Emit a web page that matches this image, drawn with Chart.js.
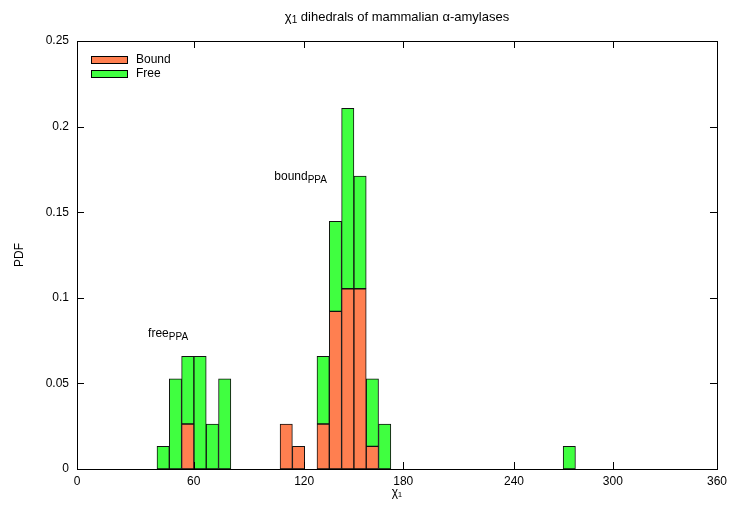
<!DOCTYPE html>
<html lang="en">
<head>
  <meta charset="UTF-8">
  <title>chi1 dihedrals</title>
  <script src="https://cdn.jsdelivr.net/npm/chart.js"></script>
  <style>
    body {
      margin: 0;
      background: #fff;
    }
    #wrap {
      width: 732px;
      height: 506px;
    }
  </style>
</head>
<body>
  <div id="wrap">
    <canvas id="chi1Chart" width="732" height="506"></canvas>
  </div>

  <script>
    // bin centres (degrees) of the non-empty bins
    const binCenters = [48.46, 55.38, 62.31, 69.23, 76.15, 83.08,
                        117.69, 124.62, 138.46, 145.38, 152.31, 159.23, 166.15, 173.08,
                        276.92];
    const boundPdf = [0, 0, 0.0263, 0, 0, 0,
                      0.0263, 0.0132, 0.0263, 0.0921, 0.1053, 0.1053, 0.0132, 0,
                      0];
    const freePdf = [0.0132, 0.0526, 0.0395, 0.0658, 0.0263, 0.0526,
                     0, 0, 0.0395, 0.0526, 0.1053, 0.0658, 0.0395, 0.0263,
                     0.0132];
    // x tick marks sit where the picture has them (not evenly spread)
    const xTickPos = [0, 65.7, 127.8, 183.5, 245.8, 301.4, 360];
    const xTickLabels = ['0', '60', '120', '180', '240', '300', '360'];
    const yTicks = [0, 0.05, 0.1, 0.15, 0.2, 0.25];
    const seriesNames = ['Bound', 'Free'];
    const labelFree = ['free', 'PPA'];
    const labelBound = ['bound', 'PPA'];

    const FONT = '"Liberation Sans", Arial, sans-serif';
    const colors = ['#ff7f50', '#40ff40'];

    // text with a subscript tail
    function drawSub(ctx, x, y, main, sub, size) {
      ctx.font = size + 'px ' + FONT;
      ctx.textBaseline = 'middle';
      ctx.textAlign = 'left';
      ctx.fillText(main, x, y);
      let w = ctx.measureText(main).width;
      ctx.font = Math.round(size * 0.8) + 'px ' + FONT;
      ctx.fillText(sub, x + w, y + size * 0.3);
      return w + ctx.measureText(sub).width;
    }

    const gnuplotLook = {
      id: 'gnuplotLook',
      afterDatasetsDraw(chart) {
        const ctx = chart.ctx;
        const a = chart.chartArea;
        const xs = chart.scales.x, ys = chart.scales.y;
        ctx.save();
        ctx.strokeStyle = '#000';
        ctx.lineWidth = 1;

        // inward ticks, mirrored
        ctx.beginPath();
        xTickPos.forEach(v => {
          const px = Math.round(xs.getPixelForValue(v)) + 0.5;
          ctx.moveTo(px, a.bottom); ctx.lineTo(px, a.bottom - 7);
          ctx.moveTo(px, a.top); ctx.lineTo(px, a.top + 7);
        });
        yTicks.forEach(v => {
          const py = Math.round(ys.getPixelForValue(v)) + 0.5;
          ctx.moveTo(a.left, py); ctx.lineTo(a.left + 7, py);
          ctx.moveTo(a.right, py); ctx.lineTo(a.right - 7, py);
        });
        ctx.stroke();

        // frame
        ctx.strokeRect(Math.round(a.left) + 0.5, Math.round(a.top) + 0.5,
                       Math.round(a.right - a.left), Math.round(a.bottom - a.top));

        ctx.fillStyle = '#000';
        // title, centred on the plot
        const head = 'χ', sub = '1', rest = ' dihedrals of mammalian α-amylases';
        ctx.font = '13px ' + FONT;
        const w1 = ctx.measureText(head).width;
        const w3 = ctx.measureText(rest).width;
        ctx.font = '10px ' + FONT;
        const w2 = ctx.measureText(sub).width;
        let tx = (a.left + a.right) / 2 - (w1 + w2 + w3) / 2;
        ctx.textBaseline = 'middle';
        ctx.textAlign = 'left';
        ctx.font = '13px ' + FONT;
        ctx.fillText(head, tx, 17);
        ctx.font = '10px ' + FONT;
        ctx.fillText(sub, tx + w1, 20);
        ctx.font = '13px ' + FONT;
        ctx.fillText(rest, tx + w1 + w2, 17);

        // legend inside, top left
        chart.data.datasets.forEach((ds, i) => {
          const ry = a.top + 15 + i * 14;
          ctx.fillStyle = ds.backgroundColor;
          ctx.fillRect(a.left + 14.5, ry + 0.5, 36, 7);
          ctx.strokeRect(a.left + 14.5, ry + 0.5, 36, 7);
          ctx.fillStyle = '#000';
          ctx.font = '12px ' + FONT;
          ctx.textBaseline = 'middle';
          ctx.fillText(ds.label, a.left + 59, ry + 4);
        });

        // annotations
        drawSub(ctx, xs.getPixelForValue(40), ys.getPixelForValue(0.079), labelFree[0], labelFree[1], 12);
        drawSub(ctx, xs.getPixelForValue(111), ys.getPixelForValue(0.171), labelBound[0], labelBound[1], 12);
        ctx.restore();
      }
    };

    const ctx = document.getElementById('chi1Chart').getContext('2d');
    new Chart(ctx, {
      type: 'bar',
      data: {
        datasets: [
          {
            label: seriesNames[0],
            data: binCenters.map((x, i) => ({ x: x, y: boundPdf[i] })),
            backgroundColor: colors[0],
            borderColor: '#111',
            borderWidth: 1,
            borderSkipped: false,
            barPercentage: 1,
            categoryPercentage: 1
          },
          {
            label: seriesNames[1],
            data: binCenters.map((x, i) => ({ x: x, y: freePdf[i] })),
            backgroundColor: colors[1],
            borderColor: '#111',
            borderWidth: 1,
            borderSkipped: false,
            barPercentage: 1,
            categoryPercentage: 1
          }
        ]
      },
      options: {
        responsive: false,
        animation: false,
        devicePixelRatio: 1,
        layout: { padding: { left: 0, right: 12, top: 41, bottom: 0 } },
        plugins: {
          legend: { display: false },
          title: { display: false },
          tooltip: { enabled: false }
        },
        scales: {
          x: {
            type: 'linear',
            stacked: true,
            min: 0,
            max: 360,
            offset: false,
            grid: { display: false, drawTicks: false },
            border: { display: false },
            afterBuildTicks: s => { s.ticks = xTickPos.map(v => ({ value: v })); },
            afterFit: s => { s.height = 37; },
            ticks: {
              color: '#000',
              font: { family: FONT, size: 12 },
              padding: 5,
              maxRotation: 0,
              autoSkip: false,
              callback: (v, i) => xTickLabels[i]
            },
            title: {
              display: true,
              text: 'χ₁',
              color: '#000',
              font: { family: FONT, size: 12 },
              padding: { top: 0, bottom: 6 }
            }
          },
          y: {
            stacked: true,
            min: 0,
            max: 0.25,
            grid: { display: false, drawTicks: false },
            border: { display: false },
            afterBuildTicks: s => { s.ticks = yTicks.map(v => ({ value: v })); },
            afterFit: s => { s.width = 77; },
            ticks: {
              color: '#000',
              font: { family: FONT, size: 12 },
              padding: 8,
              callback: v => String(+v.toFixed(2))
            },
            title: {
              display: true,
              text: 'PDF',
              color: '#000',
              font: { family: FONT, size: 12 },
              padding: { top: 12, bottom: 0 }
            }
          }
        }
      },
      plugins: [gnuplotLook]
    });
  </script>
</body>
</html>
